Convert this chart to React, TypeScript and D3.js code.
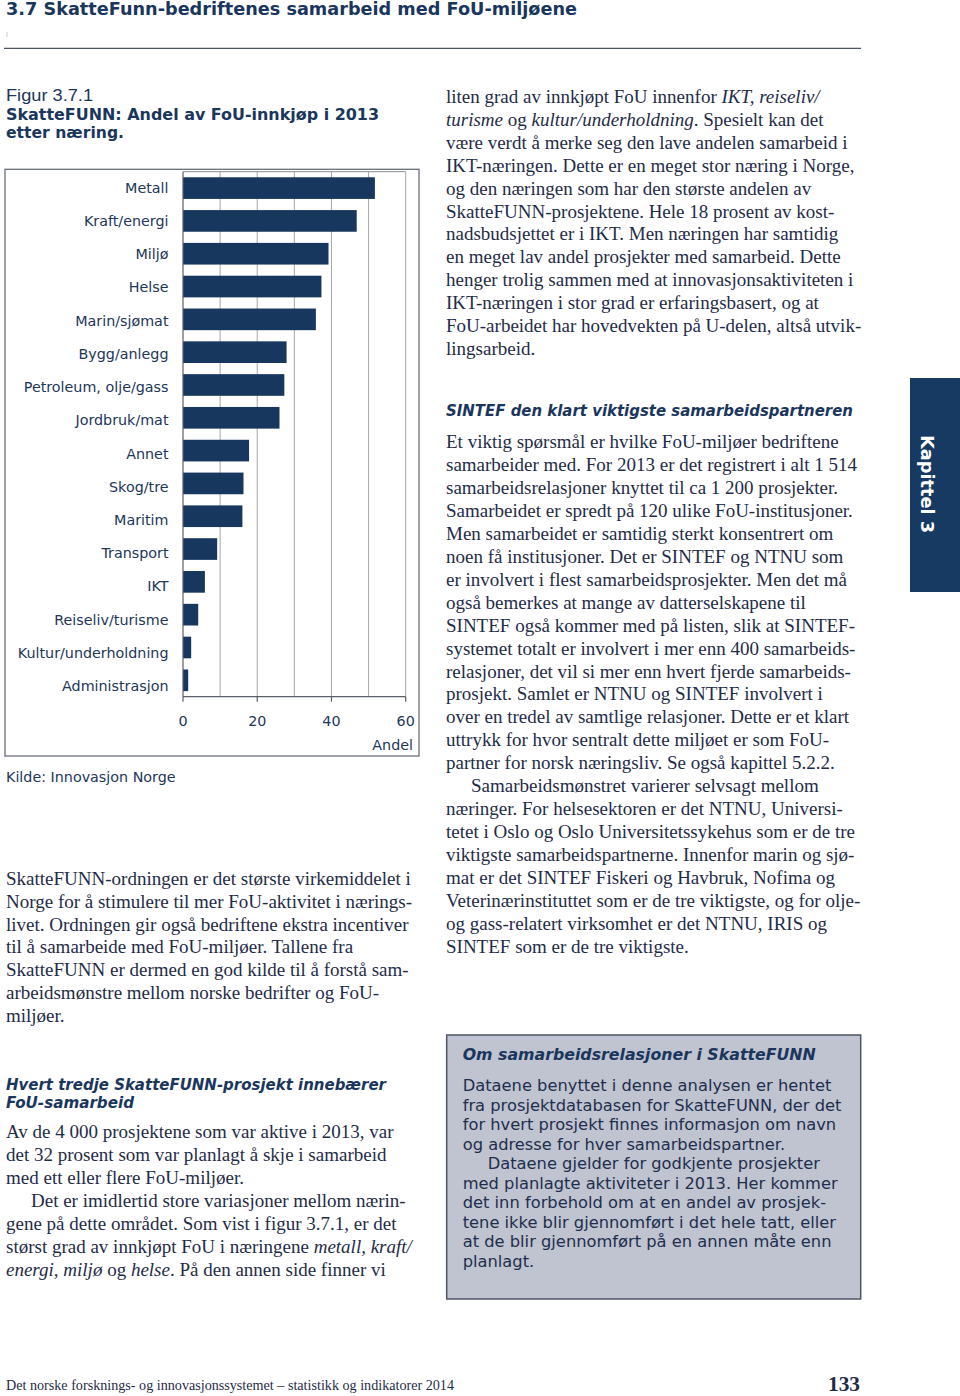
import React from "react";
import * as d3 from "d3";

const categories = [
  "Metall", "Kraft/energi", "Miljø", "Helse", "Marin/sjømat", "Bygg/anlegg",
  "Petroleum, olje/gass", "Jordbruk/mat", "Annet", "Skog/tre", "Maritim",
  "Transport", "IKT", "Reiseliv/turisme", "Kultur/underholdning", "Administrasjon",
];
const values = [51.7, 46.8, 39.2, 37.3, 35.8, 27.9, 27.3, 26.0, 17.8, 16.3, 16.0, 9.2, 5.9, 4.1, 2.2, 1.4];
const xTicks = [0, 20, 40, 60];
const gridTicks = [10, 20, 30, 40, 50, 60];

type Seg = [string, boolean];
type Line = { segs: Seg[]; indent?: boolean };
const L = (s: string, indent = false): Line => ({ segs: [[s, false]], indent });

const rightCol1: Line[] = [
  { segs: [["liten grad av innkjøpt FoU innenfor ", false], ["IKT, reiseliv/", true]] },
  { segs: [["turisme", true], [" og ", false], ["kultur/underholdning", true], [". Spesielt kan det", false]] },
  L("være verdt å merke seg den lave andelen samarbeid i"),
  L("IKT-næringen. Dette er en meget stor næring i Norge,"),
  L("og den næringen som har den største andelen av"),
  L("SkatteFUNN-prosjektene. Hele 18 prosent av kost-"),
  L("nadsbudsjettet er i IKT. Men næringen har samtidig"),
  L("en meget lav andel prosjekter med samarbeid. Dette"),
  L("henger trolig sammen med at innovasjonsaktiviteten i"),
  L("IKT-næringen i stor grad er erfaringsbasert, og at"),
  L("FoU-arbeidet har hovedvekten på U-delen, altså utvik-"),
  L("lingsarbeid."),
];

const rightCol2: Line[] = [
  L("Et viktig spørsmål er hvilke FoU-miljøer bedriftene"),
  L("samarbeider med. For 2013 er det registrert i alt 1 514"),
  L("samarbeidsrelasjoner knyttet til ca 1 200 prosjekter."),
  L("Samarbeidet er spredt på 120 ulike FoU-institusjoner."),
  L("Men samarbeidet er samtidig sterkt konsentrert om"),
  L("noen få institusjoner. Det er SINTEF og NTNU som"),
  L("er involvert i flest samarbeidsprosjekter. Men det må"),
  L("også bemerkes at mange av datterselskapene til"),
  L("SINTEF også kommer med på listen, slik at SINTEF-"),
  L("systemet totalt er involvert i mer enn 400 samarbeids-"),
  L("relasjoner, det vil si mer enn hvert fjerde samarbeids-"),
  L("prosjekt. Samlet er NTNU og SINTEF involvert i"),
  L("over en tredel av samtlige relasjoner. Dette er et klart"),
  L("uttrykk for hvor sentralt dette miljøet er som FoU-"),
  L("partner for norsk næringsliv. Se også kapittel 5.2.2."),
  L("Samarbeidsmønstret varierer selvsagt mellom", true),
  L("næringer. For helsesektoren er det NTNU, Universi-"),
  L("tetet i Oslo og Oslo Universitetssykehus som er de tre"),
  L("viktigste samarbeidspartnerne. Innenfor marin og sjø-"),
  L("mat er det SINTEF Fiskeri og Havbruk, Nofima og"),
  L("Veterinærinstituttet som er de tre viktigste, og for olje-"),
  L("og gass-relatert virksomhet er det NTNU, IRIS og"),
  L("SINTEF som er de tre viktigste."),
];

const leftCol1: Line[] = [
  L("SkatteFUNN-ordningen er det største virkemiddelet i"),
  L("Norge for å stimulere til mer FoU-aktivitet i nærings-"),
  L("livet. Ordningen gir også bedriftene ekstra incentiver"),
  L("til å samarbeide med FoU-miljøer. Tallene fra"),
  L("SkatteFUNN er dermed en god kilde til å forstå sam-"),
  L("arbeidsmønstre mellom norske bedrifter og FoU-"),
  L("miljøer."),
];

const leftCol2: Line[] = [
  L("Av de 4 000 prosjektene som var aktive i 2013, var"),
  L("det 32 prosent som var planlagt å skje i samarbeid"),
  L("med ett eller flere FoU-miljøer."),
  L("Det er imidlertid store variasjoner mellom nærin-", true),
  L("gene på dette området. Som vist i figur 3.7.1, er det"),
  { segs: [["størst grad av innkjøpt FoU i næringene ", false], ["metall, kraft/", true]] },
  { segs: [["energi, miljø", true], [" og ", false], ["helse", true], [". På den annen side finner vi", false]] },
];

const boxLines: Line[] = [
  L("Dataene benyttet i denne analysen er hentet"),
  L("fra prosjektdatabasen for SkatteFUNN, der det"),
  L("for hvert prosjekt finnes informasjon om navn"),
  L("og adresse for hver samarbeidspartner."),
  L("Dataene gjelder for godkjente prosjekter", true),
  L("med planlagte aktiviteter i 2013. Her kommer"),
  L("det inn forbehold om at en andel av prosjek-"),
  L("tene ikke blir gjennomført i det hele tatt, eller"),
  L("at de blir gjennomført på en annen måte enn"),
  L("planlagt."),
];

const SERIF = "'Liberation Serif', 'Times New Roman', serif";
const SANS = "'DejaVu Sans', Verdana, sans-serif";
const TEXT = "#1f2c48";
const NAVY = "#1b365d";
const BAR = "#17375e";

function Para({ lines, x, y0, lh, font, size, color, indent }: {
  lines: Line[]; x: number; y0: number; lh: number; font: string; size: number; color: string; indent: number;
}) {
  return (
    <g fontFamily={font} fontSize={size} fill={color} style={{ whiteSpace: "pre" }}>
      {lines.map((ln, i) => (
        <text key={i} x={x + (ln.indent ? indent : 0)} y={y0 + i * lh}>
          {ln.segs.map((s, j) => (
            <tspan key={j} fontStyle={s[1] ? "italic" : "normal"}>{s[0]}</tspan>
          ))}
        </text>
      ))}
    </g>
  );
}

function Chart() {
  const x = d3.scaleLinear().domain([0, 60]).range([183, 405.7]);
  const y = d3.scaleBand<string>().domain(categories).range([171.7, 696.7]).paddingInner(0.34).paddingOuter(0.17);
  const yLabel = d3.scalePoint<string>().domain(categories).range([187.5, 686]);
  const labelColor = "#22365a";
  return (
    <g>
      <rect x={5} y={169.3} width={414} height={586.7} fill="none" stroke="#6b6f78" strokeWidth={1.3} />
      <line x1={x(0)} x2={x(60)} y1={171.7} y2={171.7} stroke="#8a8d93" strokeWidth={1} />
      {gridTicks.map((t) => (
        <line key={t} x1={x(t)} x2={x(t)} y1={171.7} y2={696.7} stroke="#a3a6ab" strokeWidth={1} />
      ))}
      {categories.map((c, i) => (
        <rect key={c} x={x(0)} y={y(c)!} width={x(values[i]) - x(0)} height={y.bandwidth()} fill={BAR} />
      ))}
      <line x1={x(0)} x2={x(0)} y1={171.7} y2={696.7} stroke="#5a5e66" strokeWidth={1.2} />
      <line x1={x(0)} x2={x(60)} y1={696.7} y2={696.7} stroke="#5a5e66" strokeWidth={1.2} />
      {xTicks.map((t) => (
        <g key={t}>
          <line x1={x(t)} x2={x(t)} y1={696.7} y2={701.7} stroke="#5a5e66" strokeWidth={1.2} />
          <text x={x(t)} y={725.5} textAnchor="middle" fontFamily={SANS} fontSize={14.3} fill={labelColor}>{t}</text>
        </g>
      ))}
      <text x={413} y={750} textAnchor="end" fontFamily={SANS} fontSize={14.3} fill={labelColor}>Andel</text>
      {categories.map((c) => (
        <text key={c} x={168.5} y={yLabel(c)!} dy="0.36em" textAnchor="end"
          fontFamily={SANS} fontSize={14.3} fill={labelColor}>{c}</text>
      ))}
    </g>
  );
}

export default function App() {
  return (
    <svg width={960} height={1396} viewBox="0 0 960 1396"
      style={{ position: "absolute", left: 0, top: 0, background: "#fff" }}>
      <rect x={0} y={0} width={960} height={1396} fill="#fff" />
      {/* Header */}
      <text x={6} y={15} fontFamily={SANS} fontWeight="bold" fontSize={17.5} fill={NAVY}
        textLength={571} lengthAdjust="spacingAndGlyphs">3.7 SkatteFunn-bedriftenes samarbeid med FoU-miljøene</text>
      <line x1={7} x2={7} y1={32} y2={37} stroke="#c8c8c8" strokeWidth={1} />
      <line x1={4} x2={861} y1={48.3} y2={48.3} stroke="#4d5563" strokeWidth={1.2} />

      {/* Figure title */}
      <text x={6} y={101} fontFamily={"'Liberation Sans Narrow', 'Liberation Sans', Arial, sans-serif"} fontSize={17} fill={NAVY}
        textLength={87} lengthAdjust="spacingAndGlyphs">Figur 3.7.1</text>
      <text x={6} y={119.5} fontFamily={SANS} fontWeight="bold" fontSize={16} fill={NAVY}
        textLength={373} lengthAdjust="spacingAndGlyphs">SkatteFUNN: Andel av FoU-innkjøp i 2013</text>
      <text x={6} y={138} fontFamily={SANS} fontWeight="bold" fontSize={16} fill={NAVY}
        textLength={118} lengthAdjust="spacingAndGlyphs">etter næring.</text>

      <Chart />
      <text x={6} y={782} fontFamily={SANS} fontSize={14.3} fill="#22365a">Kilde: Innovasjon Norge</text>

      {/* Left column */}
      <Para lines={leftCol1} x={6} y0={885} lh={22.8} font={SERIF} size={19} color={TEXT} indent={25} />
      <text x={6} y={1090} fontFamily={SANS} fontWeight="bold" fontStyle="italic" fontSize={15} fill={NAVY}
        textLength={380} lengthAdjust="spacingAndGlyphs">Hvert tredje SkatteFUNN-prosjekt innebærer</text>
      <text x={6} y={1108} fontFamily={SANS} fontWeight="bold" fontStyle="italic" fontSize={15} fill={NAVY}
        textLength={128} lengthAdjust="spacingAndGlyphs">FoU-samarbeid</text>
      <Para lines={leftCol2} x={6} y0={1138} lh={23} font={SERIF} size={19} color={TEXT} indent={25} />

      {/* Right column */}
      <Para lines={rightCol1} x={446} y0={103} lh={22.9} font={SERIF} size={19} color={TEXT} indent={25} />
      <text x={446} y={416} fontFamily={SANS} fontWeight="bold" fontStyle="italic" fontSize={15} fill={NAVY}
        textLength={407} lengthAdjust="spacingAndGlyphs">SINTEF den klart viktigste samarbeidspartneren</text>
      <Para lines={rightCol2} x={446} y0={448} lh={22.95} font={SERIF} size={19} color={TEXT} indent={25} />

      {/* Fact box */}
      <rect x={446.7} y={1035} width={414} height={264} fill="#c0c3d0" stroke="#4d5565" strokeWidth={1.5} />
      <text x={462.7} y={1060} fontFamily={SANS} fontWeight="bold" fontStyle="italic" fontSize={16} fill={NAVY}
        textLength={353} lengthAdjust="spacingAndGlyphs">Om samarbeidsrelasjoner i SkatteFUNN</text>
      <Para lines={boxLines} x={462.7} y0={1091} lh={19.5} font={SANS} size={16.3} color="#1e2f4d" indent={25} />

      {/* Chapter tab */}
      <rect x={910} y={378} width={50} height={214} fill="#173a63" />
      <text transform="translate(921,435) rotate(90)" fontFamily={SANS} fontWeight="bold" fontSize={17} fill="#fff"
        textLength={98} lengthAdjust="spacingAndGlyphs">Kapittel 3</text>

      {/* Footer */}
      <text x={6} y={1390} fontFamily={SERIF} fontSize={15} fill="#1f2c48"
        textLength={448} lengthAdjust="spacingAndGlyphs">Det norske forsknings- og innovasjonssystemet – statistikk og indikatorer 2014</text>
      <text x={828} y={1391} fontFamily={SERIF} fontWeight="bold" fontSize={22} fill="#1f2c48"
        textLength={32} lengthAdjust="spacingAndGlyphs">133</text>
    </svg>
  );
}
